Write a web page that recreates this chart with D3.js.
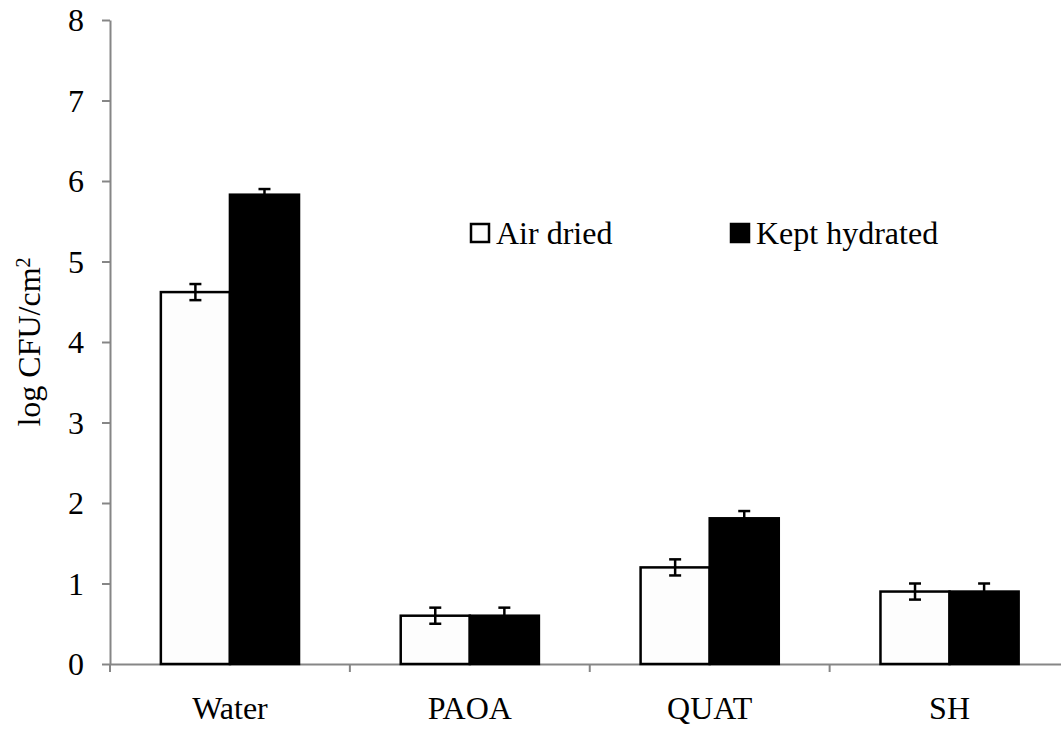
<!DOCTYPE html>
<html><head><meta charset="utf-8">
<script src="https://cdn.jsdelivr.net/npm/d3@7/dist/d3.min.js"></script>
<style>body{margin:0;background:#fff}svg{display:block}</style>
</head><body><svg id="c" width="1061" height="729"></svg>
<script>
const categories = ["Water","PAOA","QUAT","SH"];
const series = ["Air dried","Kept hydrated"];
const airDried = [4.62, 0.6, 1.2, 0.9];
const airDriedErr = [0.1, 0.1, 0.1, 0.1];
const keptHydrated = [5.83, 0.6, 1.81, 0.9];
const keptHydratedErr = [0.07, 0.1, 0.09, 0.1];
const yTicks = [0,1,2,3,4,5,6,7,8];

const FONT = "'Liberation Serif', 'Times New Roman', 'DejaVu Serif', serif";
const FS = "32px";
const svg = d3.select("#c");
const mLeft = 110, mTop = 20, mBottom = 664, mRight = 1069.5;
const x = d3.scaleBand().domain(categories).range([mLeft, mRight]).paddingInner(0).paddingOuter(0);
const xs = d3.scaleBand().domain(series).range([0, x.bandwidth()]).paddingInner(0).paddingOuter(0.736);
const y = d3.scaleLinear().domain([0, 8]).range([mBottom, mTop]);
const axisColor = "#868686";

// y axis
const ya = svg.append("g").attr("transform", `translate(${mLeft},0)`)
  .call(d3.axisLeft(y).tickValues(yTicks).tickSize(8).tickSizeOuter(0).tickPadding(18).tickFormat(d3.format("d")));
ya.attr("font-family", FONT).attr("font-size", null);
ya.select(".domain").attr("stroke", axisColor).attr("stroke-width", 2);
ya.selectAll(".tick line").attr("stroke", axisColor).attr("stroke-width", 2);
ya.selectAll(".tick text").style("font-family", FONT).style("font-size", FS).attr("fill", "#000").attr("dy", "0.34em");

// x axis
const xa = svg.append("g").attr("transform", `translate(0,${mBottom})`)
  .call(d3.axisBottom(x).tickSize(0).tickSizeOuter(0).tickPadding(0));
xa.attr("font-family", FONT).attr("font-size", null);
xa.select(".domain").attr("stroke", axisColor).attr("stroke-width", 2);
xa.selectAll(".tick text").style("font-family", FONT).style("font-size", FS).attr("fill", "#000").attr("dy", 0).attr("y", 55);
const bounds = categories.map(c => x(c)).concat([mRight]);
xa.selectAll(".bt").data(bounds).join("line").attr("class","bt")
  .attr("x1", d => d).attr("x2", d => d).attr("y1", 0).attr("y2", 8)
  .attr("stroke", axisColor).attr("stroke-width", 2);

// bars
const rows = categories.map((c, i) => [
  {cat: c, s: series[0], v: airDried[i], e: airDriedErr[i]},
  {cat: c, s: series[1], v: keptHydrated[i], e: keptHydratedErr[i]}
]).flat();
const fill = {"Air dried": "#fdfdfd", "Kept hydrated": "#000000"};
svg.append("g").selectAll("rect").data(rows).join("rect")
  .attr("x", d => x(d.cat) + xs(d.s))
  .attr("y", d => y(d.v))
  .attr("width", xs.bandwidth())
  .attr("height", d => y(0) - y(d.v))
  .attr("fill", d => fill[d.s])
  .attr("stroke", "#000").attr("stroke-width", 2.5);

// error bars
const eg = svg.append("g").attr("stroke", "#000").attr("stroke-width", 2.5);
rows.forEach(d => {
  const cx = x(d.cat) + xs(d.s) + xs.bandwidth() / 2;
  eg.append("line").attr("x1", cx).attr("x2", cx).attr("y1", y(d.v + d.e)).attr("y2", y(d.v - d.e));
  [d.v + d.e, d.v - d.e].forEach(v => {
    eg.append("line").attr("x1", cx - 6).attr("x2", cx + 6).attr("y1", y(v)).attr("y2", y(v));
  });
});

// y label
svg.append("text").attr("transform", "translate(40,342) rotate(-90)")
  .attr("text-anchor", "middle").style("font-family", FONT).style("font-size", FS).attr("fill", "#000")
  .call(t => {
    t.append("tspan").text("log CFU/cm");
    t.append("tspan").attr("dy", "-0.5em").style("font-size", "20px").text("2");
  });

// legend
const legX = [471, 731];
const lg = svg.append("g");
series.forEach((s, i) => {
  lg.append("rect").attr("x", legX[i]).attr("y", 224).attr("width", 18).attr("height", 18)
    .attr("fill", fill[s]).attr("stroke", "#000").attr("stroke-width", 2.5);
  lg.append("text").attr("x", legX[i] + 25).attr("y", 244)
    .style("font-family", FONT).style("font-size", FS).attr("fill", "#000").text(s);
});
</script></body></html>
